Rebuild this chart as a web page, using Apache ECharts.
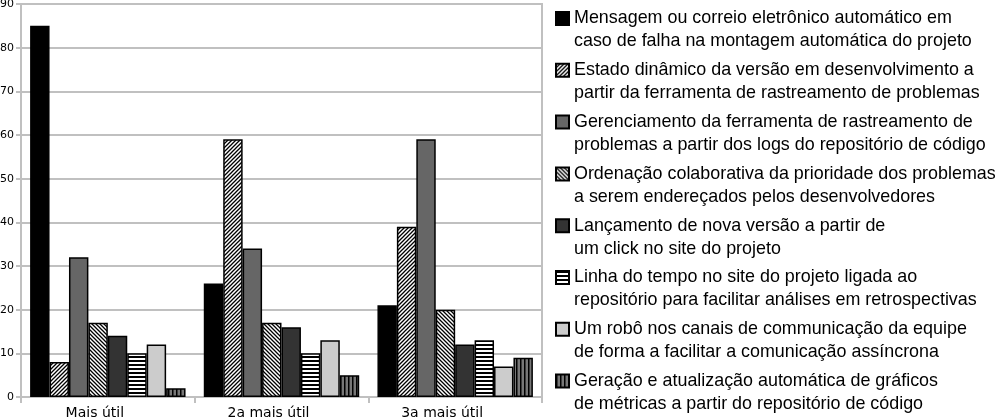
<!DOCTYPE html>
<html>
<head>
<meta charset="utf-8">
<script src="https://cdn.jsdelivr.net/npm/echarts@6/dist/echarts.min.js"></script>
<style>
  html, body { margin: 0; padding: 0; background: #fff; }
  #chart { width: 999px; height: 420px; }
</style>
</head>
<body>
<div id="chart"></div>
<script>
// categorias e valores
const categories = ['Mais útil', '2a mais útil', '3a mais útil'];
const seriesNames = [
    'Mensagem ou correio eletrônico automático em\ncaso de falha na montagem automática do projeto',
    'Estado dinâmico da versão em desenvolvimento a\npartir da ferramenta de rastreamento de problemas',
    'Gerenciamento da ferramenta de rastreamento de\nproblemas a partir dos logs do repositório de código',
    'Ordenação colaborativa da prioridade dos problemas\na serem endereçados pelos desenvolvedores',
    'Lançamento de nova versão a partir de\num click no site do projeto',
    'Linha do tempo no site do projeto ligada ao\nrepositório para facilitar análises em retrospectivas',
    'Um robô nos canais de communicação da equipe\nde forma a facilitar a comunicação assíncrona',
    'Geração e atualização automática de gráficos\nde métricas a partir do repositório de código'
];
const mensagem = [85, 26, 21];
const estadoDinamico = [8, 59, 39];
const gerenciamento = [32, 34, 59];
const ordenacao = [17, 17, 20];
const lancamento = [14, 16, 12];
const linhaTempo = [10, 10, 13];
const robo = [12, 13, 7];
const geracao = [2, 5, 9];
const yTicks = [0, 10, 20, 30, 40, 50, 60, 70, 80, 90];

const seriesValues = [mensagem, estadoDinamico, gerenciamento, ordenacao, lancamento, linhaTempo, robo, geracao];

// padrões de preenchimento (hachuras)
function makePattern(kind) {
    const c = document.createElement('canvas');
    c.width = 4;
    c.height = 4;
    const ctx = c.getContext('2d');
    ctx.fillStyle = '#fff';
    ctx.fillRect(0, 0, 4, 4);
    ctx.strokeStyle = '#000';
    ctx.fillStyle = '#000';
    if (kind === 'slash') {
        ctx.lineWidth = 1.3;
        ctx.beginPath();
        ctx.moveTo(-1, 5); ctx.lineTo(5, -1);
        ctx.moveTo(-1, 1); ctx.lineTo(1, -1);
        ctx.moveTo(3, 5); ctx.lineTo(5, 3);
        ctx.stroke();
    } else if (kind === 'backslash') {
        ctx.lineWidth = 1.3;
        ctx.beginPath();
        ctx.moveTo(-1, -1); ctx.lineTo(5, 5);
        ctx.moveTo(3, -1); ctx.lineTo(5, 1);
        ctx.moveTo(-1, 3); ctx.lineTo(1, 5);
        ctx.stroke();
    } else if (kind === 'horizontal') {
        ctx.fillRect(0, 0, 4, 2);
    } else if (kind === 'vertical') {
        ctx.fillStyle = '#777';
        ctx.fillRect(0, 0, 4, 4);
        ctx.fillStyle = '#000';
        ctx.fillRect(0, 0, 1.5, 4);
    }
    return { image: c, repeat: 'repeat' };
}

const fills = [
    '#000000',
    makePattern('slash'),
    '#666666',
    makePattern('backslash'),
    '#333333',
    makePattern('horizontal'),
    '#cccccc',
    makePattern('vertical')
];

const chart = echarts.init(document.getElementById('chart'), null, { renderer: 'canvas' });

const series = seriesNames.map((name, i) => ({
    name: name,
    type: 'bar',
    data: seriesValues[i],
    barGap: '0%',
    barCategoryGap: '10.5%',
    itemStyle: {
        color: fills[i],
        borderColor: '#000',
        borderWidth: 1.5
    },
    emphasis: { disabled: true }
}));

chart.setOption({
    animation: false,
    textStyle: { fontFamily: '"DejaVu Sans", sans-serif' },
    grid: {
        left: 21,
        right: 457,
        top: 4,
        bottom: 23,
        outerBoundsMode: 'none',
        show: true,
        borderColor: '#c0c0c0',
        borderWidth: 2
    },
    legend: {
        orient: 'vertical',
        left: 555,
        top: -16,
        height: 600,
        padding: 0,
        itemWidth: 13,
        itemHeight: 13,
        itemGap: -17.2,
        icon: 'rect',
        selectedMode: false,
        formatter: function (name) {
            // linha vazia no início para o ícone ficar alinhado à primeira linha
            return '\n' + name;
        },
        textStyle: {
            fontSize: 17.9,
            lineHeight: 23,
            color: '#000',
            fontFamily: '"Liberation Sans", Arial, sans-serif'
        }
    },
    xAxis: {
        type: 'category',
        data: categories,
        axisLine: { lineStyle: { color: '#c0c0c0', width: 2 } },
        axisTick: { show: true, length: 6, lineStyle: { color: '#c0c0c0', width: 2 } },
        axisLabel: {
            color: '#000',
            fontSize: 14,
            margin: 9,
            padding: [0, 26, 0, 0],
            fontFamily: '"DejaVu Sans", sans-serif'
        }
    },
    yAxis: {
        type: 'value',
        min: yTicks[0],
        max: yTicks[yTicks.length - 1],
        interval: yTicks[1] - yTicks[0],
        axisLine: { show: true, lineStyle: { color: '#c0c0c0', width: 2 } },
        axisTick: { show: true, length: 5, lineStyle: { color: '#c0c0c0', width: 2 } },
        splitLine: { lineStyle: { color: '#c0c0c0', width: 2 } },
        axisLabel: { color: '#000', fontSize: 11, margin: 7, fontFamily: '"DejaVu Sans", sans-serif' }
    },
    series: series
});
</script>
</body>
</html>
